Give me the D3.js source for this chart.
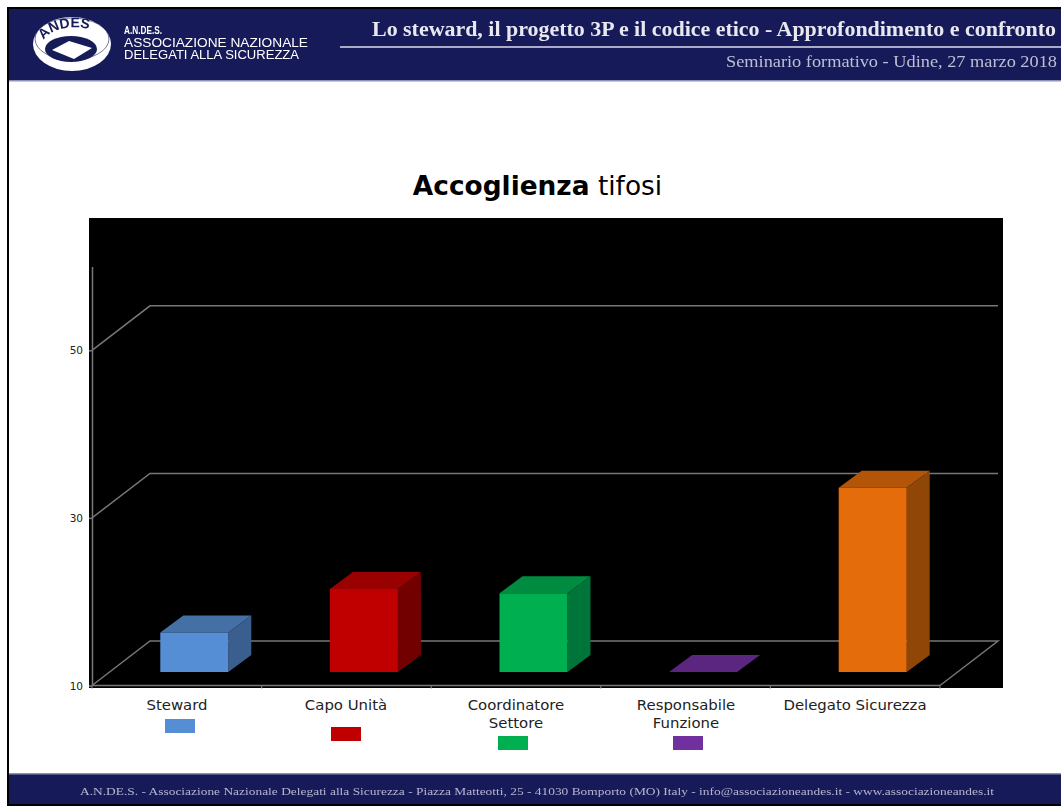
<!DOCTYPE html>
<html><head><meta charset="utf-8">
<script src="https://cdn.jsdelivr.net/npm/d3@7"></script>
<style>html,body{margin:0;padding:0;background:#fff;overflow:hidden}svg{display:block}text{font-family:"DejaVu Sans",sans-serif}</style>
</head><body><svg id="c" width="1061" height="807"></svg>
<script>
const categories=["Steward","Capo Unità","Coordinatore\nSettore","Responsabile\nFunzione","Delegato Sicurezza"];
const values=[14.7,19.9,19.4,10,32];
const frontColors=["#558ed5","#c00000","#00b050","#5a267f","#e46c0a"];
const topColors=["#4570a5","#990000","#008c40","#5a267f","#b35508"];
const sideColors=["#3a5f8f","#730000","#00753a","#5a267f","#8f4606"];
const swatchColors=["#558ed5","#c00000","#00b050","#7030a0",null];
const legendTop=[719,727,736,736,null];
const legendX=[165,331,498,673,null];
const yTicks=[10,30,50];
const headerTitle="Lo steward, il progetto 3P e il codice etico - Approfondimento e confronto";
const headerSub="Seminario formativo - Udine, 27 marzo 2018";
const footerText="A.N.DE.S. - Associazione Nazionale Delegati alla Sicurezza - Piazza Matteotti, 25 - 41030 Bomporto (MO) Italy - info@associazioneandes.it - www.associazioneandes.it";
const orgLines=["A.N.DE.S.","ASSOCIAZIONE NAZIONALE","DELEGATI ALLA SICUREZZA"];

const svg=d3.select("#c");
const defs=svg.append("defs");
const fl=defs.append("filter").attr("id","blur").attr("filterUnits","userSpaceOnUse").attr("x",0).attr("y",0).attr("width",1061).attr("height",807);
fl.append("feGaussianBlur").attr("stdDeviation",0.7);
const navy="#171a58";

svg.append("rect").attr("x",8).attr("y",8).attr("width",1060).attr("height",797).attr("fill","#fff").attr("stroke","#000").attr("stroke-width",2);
const hdr=svg.append("g");
hdr.append("rect").attr("x",9).attr("y",9).attr("width",1052).attr("height",71).attr("fill",navy);
hdr.append("rect").attr("x",9).attr("y",80).attr("width",1052).attr("height",1.5).attr("fill","#8d90bb");
hdr.append("rect").attr("x",9).attr("y",774).attr("width",1052).attr("height",30).attr("fill",navy);
hdr.append("rect").attr("x",9).attr("y",773).attr("width",1052).attr("height",1.5).attr("fill","#8d90bb");
hdr.append("rect").attr("x",340).attr("y",46).attr("width",721).attr("height",2).attr("fill","#a9abc9");

const hb=svg.append("g").attr("filter","url(#blur)");
hb.append("ellipse").attr("cx",72).attr("cy",44).attr("rx",39).attr("ry",27).attr("fill","#fff");
hb.append("ellipse").attr("cx",72).attr("cy",39).attr("rx",37).attr("ry",21).attr("fill","#fff").attr("stroke",navy).attr("stroke-width",.6);
hb.append("ellipse").attr("cx",71).attr("cy",49).attr("rx",26).attr("ry",13).attr("fill",navy);
hb.append("path").attr("d",d3.line()([[52,50],[69,41],[92,48],[74,59]])+"Z").attr("fill","#fff");
defs.append("path").attr("id","arc").attr("d","M43,42 C50,24 94,22 102,39");
hb.append("text").attr("font-weight","bold").attr("font-size",14).attr("fill",navy).style("font-family","Liberation Sans").append("textPath").attr("href","#arc").attr("startOffset","3%").text("ANDES");
orgLines.forEach((t,i)=>hb.append("text").attr("x",124).attr("y",[34,47,59][i]).attr("fill","#fff").style("font-family","Liberation Sans").attr("font-size",i?12:11).attr("font-weight",i?"normal":"bold").attr("textLength",[38,184,175][i]).attr("lengthAdjust","spacingAndGlyphs").text(t));
hb.append("text").attr("x",372).attr("y",36).attr("fill","#e8e8f0").style("font-family","Liberation Serif").attr("font-weight","bold").attr("font-size",20).attr("textLength",684).attr("lengthAdjust","spacingAndGlyphs").text(headerTitle);
hb.append("text").attr("x",726).attr("y",67).attr("fill","#bdbfd6").style("font-family","Liberation Serif").attr("font-size",17).attr("textLength",331).attr("lengthAdjust","spacingAndGlyphs").text(headerSub);
hb.append("text").attr("x",80).attr("y",795).attr("fill","#b4b6d0").style("font-family","Liberation Serif").attr("font-size",11).attr("textLength",914).attr("lengthAdjust","spacingAndGlyphs").text(footerText);

const t=svg.append("text").attr("x",537.5).attr("y",195).attr("text-anchor","middle").attr("font-size",26.4).attr("fill","#000");
t.append("tspan").attr("font-weight","bold").text("Accoglienza");
t.append("tspan").text(" tifosi");

svg.append("rect").attr("x",89).attr("y",218).attr("width",914).attr("height",470).attr("fill","#000");
const y=d3.scaleLinear().domain([10,60]).range([685.5,266.5]);
const x=d3.scaleBand().domain(categories).range([92,940]).paddingInner(0).paddingOuter(0);
const dx=58,dy=-44.5;
const barW=68, bdx=23, bdy=-17, fdx=17.5, fdy=-13.5;
const grid="#777777";
const line=d3.line();
const g=svg.append("g");
g.selectAll("path.grid").data(yTicks).join("path").attr("class","grid").attr("fill","none").attr("stroke",grid).attr("stroke-width",1.5)
 .attr("d",v=>line([[x.range()[0],y(v)],[x.range()[0]+dx,y(v)+dy],[x.range()[1]+dx,y(v)+dy]].concat(v===10?[[x.range()[1],y(v)]]:[])));

const gy=g.append("g").attr("transform",`translate(${x.range()[0]},0)`).call(d3.axisLeft(y).tickValues(yTicks).tickSize(3).tickPadding(6).tickSizeOuter(0));
gy.selectAll("path,line").attr("stroke",grid).attr("stroke-width",1.5);
gy.selectAll("text").attr("fill","#222").style("font-family","DejaVu Sans").attr("font-size",10.5).attr("dy","0.35em");
const gx=g.append("g").attr("transform",`translate(0,${y(10)})`);
gx.append("line").attr("x1",x.range()[0]).attr("x2",x.range()[1]).attr("stroke",grid).attr("stroke-width",1.6);
gx.selectAll("line.t").data(categories.map(c=>x(c)).concat([x.range()[1]])).join("line").attr("class","t").attr("x1",d=>d).attr("x2",d=>d).attr("y1",0).attr("y2",3).attr("stroke",grid).attr("stroke-width",1.2);

const bars=g.selectAll("g.bar").data(categories.map((c,i)=>({c,i,v:values[i]}))).join("g").attr("class","bar");
const L=d=>x(d.c)+x.bandwidth()/2+fdx-barW/2, B=()=>y(10)+fdy, T=d=>y(d.v)+fdy;
bars.append("path").attr("fill",d=>topColors[d.i]).attr("d",d=>line([[L(d),T(d)],[L(d)+bdx,T(d)+bdy],[L(d)+barW+bdx,T(d)+bdy],[L(d)+barW,T(d)]])+"Z");
bars.append("path").attr("fill",d=>sideColors[d.i]).attr("d",d=>line([[L(d)+barW,T(d)],[L(d)+barW+bdx,T(d)+bdy],[L(d)+barW+bdx,B()+bdy],[L(d)+barW,B()]])+"Z");
bars.append("path").attr("fill",d=>frontColors[d.i]).attr("d",d=>line([[L(d),T(d)],[L(d)+barW,T(d)],[L(d)+barW,B()],[L(d),B()]])+"Z");

const labelX=[177,346,516,686,855];
categories.forEach((c,i)=>{
  c.split("\n").forEach((s,j)=>svg.append("text").attr("x",labelX[i]).attr("y",710+j*18).attr("text-anchor","middle").attr("font-size",14.9).attr("fill","#222").text(s));
  if(swatchColors[i]) svg.append("rect").attr("x",legendX[i]).attr("y",legendTop[i]).attr("width",30).attr("height",14).attr("fill",swatchColors[i]);
});
</script></body></html>
